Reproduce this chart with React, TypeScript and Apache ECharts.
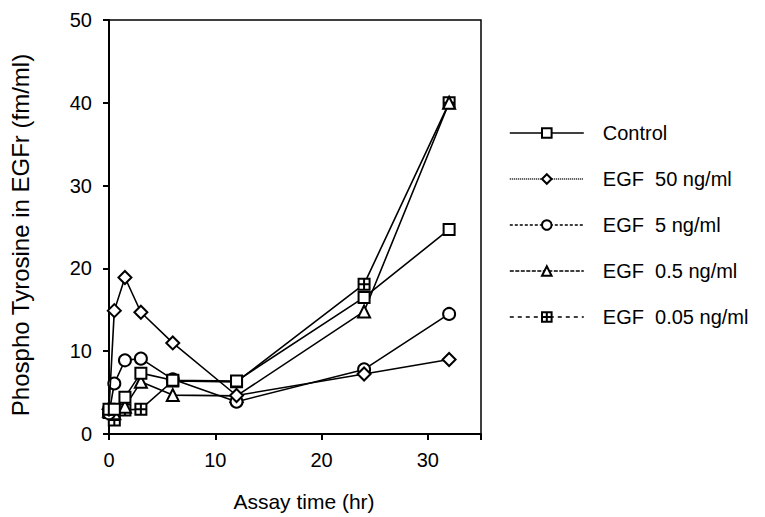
import React, { useEffect, useRef } from "react";
import * as echarts from "echarts";

const times = [0, 0.5, 1.5, 3, 6, 12, 24, 32];
const control = [3.0, 3.0, 4.45, 7.35, 6.5, 6.4, 16.5, 24.7];
const egf50 = [3.0, 14.9, 18.9, 14.7, 11.0, 4.65, 7.25, 9.0];
const egf5 = [2.5, 6.1, 8.9, 9.1, 6.6, 3.9, 7.8, 14.5];
const egf05 = [2.8, 2.5, 3.3, 6.3, 4.7, 4.6, 14.8, 40.0];
const egf005 = [2.6, 1.7, 2.9, 3.0, 6.4, 6.3, 18.1, 40.0];
const seriesNames = ["Control", "EGF  50 ng/ml", "EGF  5 ng/ml", "EGF  0.5 ng/ml", "EGF  0.05 ng/ml"];
const xTicks = [0, 10, 20, 30];
const yTicks = [0, 10, 20, 30, 40, 50];

const FONT = "Liberation Sans, Arial, sans-serif";
const crossBox = "path://M0,0H10V10H0ZM5,0V10M0,5H10";

export default function App() {
  const ref = useRef<HTMLDivElement>(null);
  useEffect(() => {
    if (!ref.current) return;
    const chart = echarts.init(ref.current, undefined, { renderer: "svg" });
    const values = [control, egf50, egf5, egf05, egf005];
    const symbols = ["rect", "diamond", "circle", "triangle", crossBox];
    const sizes = [11, [13, 13], 12, 12, 11];
    const legendDash: any[] = ["solid", [1, 1], [3, 2], [4, 1.5], [4, 4]];
    const series = values.map((v, i) => ({
      name: seriesNames[i],
      type: "line",
      data: times.map((t, j) => [t, v[j]]),
      symbol: symbols[i],
      symbolSize: sizes[i],
      showAllSymbol: true,
      color: "#000",
      lineStyle: { color: "#000", width: 1.6 },
      itemStyle: { color: "#fff", borderColor: "#000", borderWidth: 2 },
      z: 2 + (4 - i),
    }));
    chart.setOption({
      animation: false,
      backgroundColor: "#fff",
      textStyle: { fontFamily: FONT, color: "#000" },
      grid: {
        left: 109,
        top: 20,
        right: 284,
        bottom: 81,
        show: true,
        borderColor: "#000",
        borderWidth: 1.5,
        backgroundColor: "transparent",
      },
      legend: {
        orient: "vertical",
        left: 504,
        top: 118,
        itemWidth: 74,
        itemHeight: 12,
        itemGap: 26,
        textStyle: { fontFamily: FONT, fontSize: 20, color: "#000", padding: [0, 0, 0, 14] },
        data: seriesNames.map((n, i) => ({
          name: n,
          lineStyle: { type: legendDash[i], width: 1.6, color: "#000" },
        })),
      },
      xAxis: {
        type: "value",
        min: 0,
        max: 35,
        interval: 10,
        name: "Assay time (hr)",
        nameLocation: "middle",
        nameGap: 57,
        nameTextStyle: { fontFamily: FONT, fontSize: 21, color: "#000", padding: [0, 0, 0, 18] },
        axisLine: { show: true, lineStyle: { color: "#000", width: 2 } },
        axisTick: { show: true, length: 6, lineStyle: { color: "#000", width: 2 } },
        axisLabel: {
          fontFamily: FONT,
          fontSize: 20,
          color: "#000",
          margin: 16,
          formatter: (v: number) => (xTicks.includes(v) ? String(v) : ""),
        },
        splitLine: { show: false },
      },
      yAxis: {
        type: "value",
        min: 0,
        max: 50,
        interval: 10,
        name: "Phospho Tyrosine in EGFr (fm/ml)",
        nameLocation: "middle",
        nameGap: 77,
        nameTextStyle: { fontFamily: FONT, fontSize: 24, color: "#000", padding: [0, 16, 0, 0] },
        axisLine: { show: true, lineStyle: { color: "#000", width: 2 } },
        axisTick: { show: true, length: 6, lineStyle: { color: "#000", width: 2 } },
        axisLabel: {
          fontFamily: FONT,
          fontSize: 20,
          color: "#000",
          margin: 17,
          formatter: (v: number) => (yTicks.includes(v) ? String(v) : ""),
        },
        splitLine: { show: false },
      },
      series,
    });
    return () => chart.dispose();
  }, []);
  return <div ref={ref} style={{ width: 765, height: 517, position: "absolute", left: 0, top: 0 }} />;
}
